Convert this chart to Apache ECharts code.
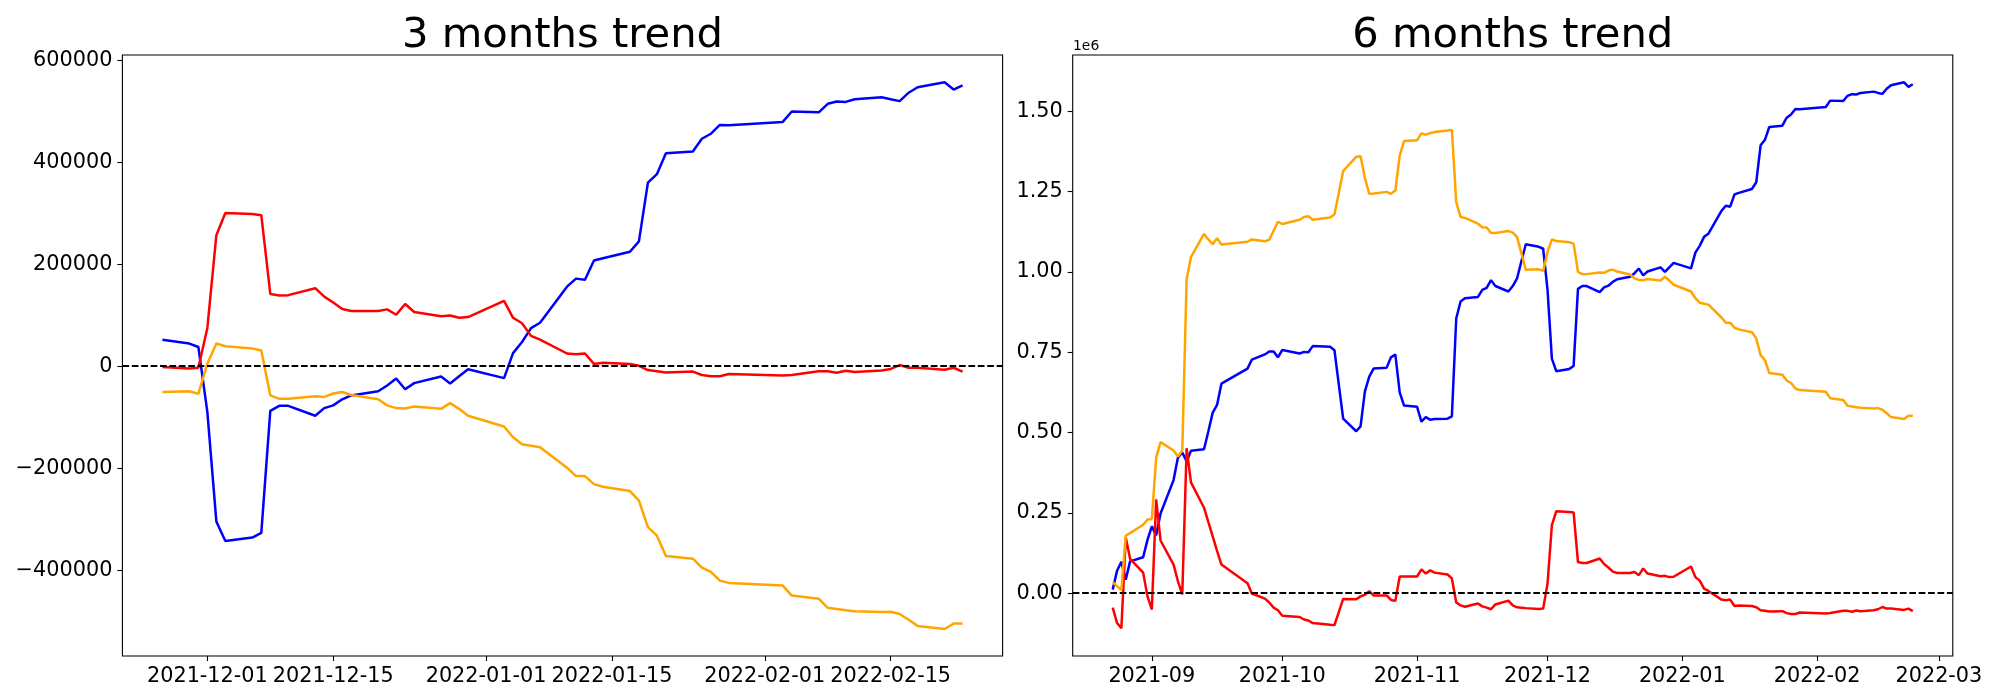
<!DOCTYPE html>
<html>
<head>
<meta charset="utf-8">
<script src="https://cdn.jsdelivr.net/npm/echarts@6/dist/echarts.min.js"></script>
<style>
html,body{margin:0;padding:0;background:#fff;}
#c{width:2000px;height:700px;}
</style>
</head>
<body>
<div id="c"></div>
<script>
// ---------- DATA: 3 months ----------
const dates3m = [
 '2021-11-26','2021-11-29','2021-11-30',
 '2021-12-01','2021-12-02','2021-12-03','2021-12-06','2021-12-07','2021-12-08','2021-12-09','2021-12-10',
 '2021-12-13','2021-12-14','2021-12-15','2021-12-16','2021-12-17','2021-12-20','2021-12-21','2021-12-22',
 '2021-12-23','2021-12-24','2021-12-27','2021-12-28','2021-12-29','2021-12-30',
 '2022-01-03','2022-01-04','2022-01-05','2022-01-06','2022-01-07','2022-01-10','2022-01-11','2022-01-12',
 '2022-01-13','2022-01-14','2022-01-17','2022-01-18','2022-01-19','2022-01-20','2022-01-21','2022-01-24',
 '2022-01-25','2022-01-26','2022-01-27','2022-01-28',
 '2022-02-03','2022-02-04','2022-02-07','2022-02-08','2022-02-09','2022-02-10','2022-02-11','2022-02-14',
 '2022-02-15','2022-02-16','2022-02-17','2022-02-18','2022-02-21','2022-02-22','2022-02-23'
];
const blue3m = [
 52000, 44400, 37700,
 -90000, -304200, -342600, -335800, -326800, -87400, -77600, -77600, -97100, -82100, -76800, -64800, -57200,
 -49000, -37700, -24100, -45200, -33100, -20300, -33900, -19600, -6000,
 -23300, 25600, 47400, 74600, 85100, 155900, 171700, 169400, 207100, 211600, 224400, 244700, 359900, 376500,
 417200, 420900, 445800, 455600, 472900, 472100,
 478900, 499200, 497700, 514300, 518800, 518100, 523300, 527100, 523300, 519600, 536100, 546700, 556500, 542200, 550400
];
const red3m = [
 -1500, -4500, -3000,
 75000, 256800, 300400, 298200, 296000, 141600, 138600, 139300, 152900, 136300, 125000, 112200, 108400,
 108400, 111400, 100900, 122000, 106200, 97900, 99400, 94900, 96400,
 128000, 94900, 84300, 59500, 52000, 24900, 23300, 24900, 4500, 6800, 4500, 800, -7500, -9800,
 -12100, -10500, -17300, -19600, -19600, -15100,
 -18100, -17300, -9800, -9800, -12800, -9000, -11300, -8300, -5300, 2300, -3000, -3000, -6800, -3000, -10500
];
const orange3m = [
 -50500, -49000, -54200,
 5000, 44400, 39200, 34600, 30900, -57200, -64000, -64000, -58700, -60200, -53500, -50500, -56500,
 -64800, -76800, -82100, -82800, -79100, -83600, -72300, -83600, -97100,
 -118200, -139300, -152900, -155900, -158900, -198800, -215400, -215400, -231200, -236400, -244700, -263600, -315500, -332100,
 -372000, -377300, -394600, -402900, -420200, -424700,
 -430000, -449500, -455600, -473600, -475900, -478200, -480400, -481900, -481200, -485700, -497000, -509000, -515100, -504500, -504500
];

// ---------- DATA: 6 months ----------
const dates6m = [
 '2021-08-23','2021-08-24','2021-08-25','2021-08-26','2021-08-27','2021-08-30','2021-08-31',
 '2021-09-01','2021-09-02','2021-09-03','2021-09-06','2021-09-07','2021-09-08','2021-09-09','2021-09-10',
 '2021-09-13','2021-09-14','2021-09-15','2021-09-16','2021-09-17','2021-09-23','2021-09-24','2021-09-27',
 '2021-09-28','2021-09-29','2021-09-30',
 '2021-10-01','2021-10-05','2021-10-06','2021-10-07','2021-10-08','2021-10-12','2021-10-13','2021-10-14',
 '2021-10-15','2021-10-18','2021-10-19','2021-10-20','2021-10-21','2021-10-22','2021-10-25','2021-10-26',
 '2021-10-27','2021-10-28','2021-10-29',
 '2021-11-01','2021-11-02','2021-11-03','2021-11-04','2021-11-05','2021-11-08','2021-11-09','2021-11-10',
 '2021-11-11','2021-11-12','2021-11-15','2021-11-16','2021-11-17','2021-11-18','2021-11-19','2021-11-22',
 '2021-11-23','2021-11-24','2021-11-25','2021-11-26','2021-11-29','2021-11-30',
 '2021-12-01','2021-12-02','2021-12-03','2021-12-06','2021-12-07','2021-12-08','2021-12-09','2021-12-10',
 '2021-12-13','2021-12-14','2021-12-15','2021-12-16','2021-12-17','2021-12-20','2021-12-21','2021-12-22',
 '2021-12-23','2021-12-24','2021-12-27','2021-12-28','2021-12-29','2021-12-30',
 '2022-01-03','2022-01-04','2022-01-05','2022-01-06','2022-01-07','2022-01-10','2022-01-11','2022-01-12',
 '2022-01-13','2022-01-14','2022-01-17','2022-01-18','2022-01-19','2022-01-20','2022-01-21','2022-01-24',
 '2022-01-25','2022-01-26','2022-01-27','2022-01-28',
 '2022-02-03','2022-02-04','2022-02-07','2022-02-08','2022-02-09','2022-02-10','2022-02-11','2022-02-14',
 '2022-02-15','2022-02-16','2022-02-17','2022-02-18','2022-02-21','2022-02-22','2022-02-23'
];
const blue6m = [
 11000, 70000, 98000, 42000, 99000, 112000, 166000,
 208000, 180000, 248000, 352000, 422000, 438000, 410000, 443000, 448000, 504000, 562000, 586000, 652000,
 699000, 727000, 743000, 752000, 752000, 734000,
 757000, 746000, 751000, 750000, 769000, 767000, 756000, 649000, 543000, 504000, 519000, 628000, 674000,
 699000, 702000, 734000, 743000, 625000, 584000,
 580000, 534000, 548000, 540000, 542000, 543000, 550000, 855000, 908000, 918000, 922000, 944000, 950000,
 974000, 956000, 939000, 956000, 980000, 1034000, 1086000, 1078000, 1072000,
 944000, 730000, 691000, 698000, 707000, 947000, 956000, 956000, 937000, 952000, 957000, 969000, 977000,
 985000, 996000, 1010000, 989000, 1001000, 1014000, 1000000, 1014000, 1028000,
 1011000, 1060000, 1081000, 1109000, 1119000, 1190000, 1206000, 1203000, 1241000, 1246000, 1258000, 1279000,
 1394000, 1411000, 1451000, 1455000, 1480000, 1490000, 1507000, 1506000,
 1513000, 1533000, 1532000, 1548000, 1553000, 1552000, 1557000, 1561000, 1557000, 1554000, 1570000, 1581000,
 1590000, 1576000, 1584000
];
const red6m = [
 -45000, -93000, -109000, 173000, 107000, 64000, -10000,
 -51000, 292000, 164000, 89000, 37000, -4000, 451000, 345000, 266000, 221000, 177000, 132000, 89000,
 31000, -1000, -17000, -29000, -45000, -53000,
 -70000, -74000, -82000, -85000, -93000, -98000, -99000, -59000, -18000, -19000, -10000, -5000, 6000,
 -7000, -7000, -21000, -24000, 52000, 52000,
 52000, 74000, 61000, 71000, 64000, 58000, 46000, -29000, -38000, -42000, -32000, -41000, -45000,
 -50000, -35000, -23000, -38000, -44000, -45000, -46500, -49500, -48000,
 30000, 212000, 255000, 253000, 251000, 97000, 94000, 94000, 108000, 91000, 80000, 67000, 63000,
 63000, 66000, 56000, 77000, 61000, 53000, 54000, 50000, 51000,
 83000, 50000, 39000, 14000, 7000, -20000, -22000, -20000, -40000, -38000, -40000, -44000,
 -53000, -55000, -57000, -56000, -62000, -65000, -65000, -60000,
 -63000, -62000, -55000, -55000, -58000, -54000, -56000, -53000, -50000, -43000, -48000, -48000,
 -52000, -48000, -56000
];
const orange6m = [
 34000, 22000, 10000, 179000, 187000, 213000, 229000,
 231000, 422000, 470000, 444000, 425000, 444000, 977000, 1046000, 1118000, 1101000, 1086000, 1105000, 1085000,
 1094000, 1101000, 1095000, 1100000, 1128000, 1156000,
 1149000, 1162000, 1171000, 1173000, 1162000, 1169000, 1179000, 1246000, 1314000, 1358000, 1360000, 1292000, 1243000,
 1244000, 1249000, 1243000, 1253000, 1362000, 1407000,
 1410000, 1431000, 1427000, 1432000, 1435000, 1440000, 1442000, 1217000, 1171000, 1168000, 1150000, 1139000, 1138000,
 1121000, 1121000, 1127000, 1122000, 1108000, 1057000, 1007000, 1008000, 1003000,
 1062000, 1101000, 1096000, 1092000, 1088000, 1000000, 993000, 993000, 998000, 997000, 1004000, 1007000, 1001000,
 992000, 980000, 975000, 974000, 978000, 973000, 985000, 973000, 960000,
 939000, 918000, 904000, 901000, 898000, 858000, 842000, 842000, 826000, 821000, 812000, 793000,
 741000, 725000, 685000, 680000, 662000, 654000, 637000, 632000,
 627000, 607000, 601000, 583000, 581000, 579000, 577000, 575000, 576000, 571000, 560000, 548000,
 542000, 552000, 552000
];

// ---------- TICKS ----------
const xTicks3m = ['2021-12-01','2021-12-15','2022-01-01','2022-01-15','2022-02-01','2022-02-15'];
const xTicks6m = ['2021-09-01','2021-10-01','2021-11-01','2021-12-01','2022-01-01','2022-02-01','2022-03-01'];
const yTicks3m = [-400000, -200000, 0, 200000, 400000, 600000];
const yTicks6m = [0, 250000, 500000, 750000, 1000000, 1250000, 1500000];

// ---------- CHART ----------
const DAY = 86400000;
function ts(s){ const p = s.split('-').map(Number); return new Date(p[0], p[1]-1, p[2]).getTime(); }
function pad2(n){ return (n < 10 ? '0' : '') + n; }
function fmtDay(v){ const d = new Date(v); return d.getFullYear() + '-' + pad2(d.getMonth()+1) + '-' + pad2(d.getDate()); }
function fmtMonth(v){ const d = new Date(v); return d.getFullYear() + '-' + pad2(d.getMonth()+1); }
const FONT = 'DejaVu Sans';
const TICK_FS = 20.8;

function pairs(dates, vals){ return dates.map((d,i)=>[ts(d), vals[i]]); }

function xAxisCfg(idx, dates, ticks, fmt, pad){
  const tv = ticks.map(ts);
  return {
    type:'value', gridIndex: idx, scale:true, position:'bottom',
    min: ts(dates[0]) - pad*DAY, max: ts(dates[dates.length-1]) + pad*DAY,
    axisLine:{show:false, onZero:false}, splitLine:{show:false},
    axisTick:{show:true, customValues: tv, length:5, lineStyle:{color:'#000', width:1.1}},
    axisLabel:{show:true, customValues: tv, hideOverlap:false, showMinLabel:true, showMaxLabel:true,
      color:'#000', fontSize:TICK_FS, fontFamily:FONT, margin:10, formatter: fmt}
  };
}
function yAxisCfg(idx, min, max, ticks, fmt){
  return {
    type:'value', gridIndex: idx, min:min, max:max, scale:true, position:'left',
    axisLine:{show:false, onZero:false}, splitLine:{show:false},
    axisTick:{show:true, customValues: ticks, length:5, lineStyle:{color:'#000', width:1.1}},
    axisLabel:{show:true, customValues: ticks, color:'#000', fontSize:TICK_FS, fontFamily:FONT, margin:10, formatter: fmt}
  };
}
function lineSeries(xi, data, color){
  return {type:'line', xAxisIndex:xi, yAxisIndex:xi, data:data, showSymbol:false, symbol:'none',
    lineStyle:{color:color, width:2.5}, itemStyle:{color:color}, z:2, silent:true};
}
function zeroSeries(xi){
  return {type:'line', xAxisIndex:xi, yAxisIndex:xi, data:[], z:5, silent:true,
    markLine:{silent:true, symbol:['none','none'], label:{show:false}, animation:false,
      lineStyle:{color:'#000', width:2.2, type:[6.7,2.7], opacity:1}, data:[{yAxis:0}]}};
}

const chart = echarts.init(document.getElementById('c'), null, {renderer:'canvas'});
chart.setOption({
  animation:false,
  backgroundColor:'#fff',
  grid:[
    {left:122.4, top:55, width:880.2, height:601, show:true, borderColor:'#000', borderWidth:1.1, backgroundColor:'transparent'},
    {left:1072.7, top:55, width:880.1, height:601, show:true, borderColor:'#000', borderWidth:1.1, backgroundColor:'transparent'}
  ],
  xAxis:[
    xAxisCfg(0, dates3m, xTicks3m, fmtDay, 4.45),
    xAxisCfg(1, dates6m, xTicks6m, fmtMonth, 9.2)
  ],
  yAxis:[
    yAxisCfg(0, -568000, 610000, yTicks3m, v => v < 0 ? '\u2212' + Math.abs(v) : String(v)),
    yAxisCfg(1, -195500, 1675000, yTicks6m, v => (v/1e6).toFixed(2))
  ],
  graphic:[
    {type:'text', x:562.5, y:36, style:{text:'3 months trend', fill:'#000', font:'41.7px "DejaVu Sans"', align:'center', verticalAlign:'middle'}},
    {type:'text', x:1512.75, y:36, style:{text:'6 months trend', fill:'#000', font:'41.7px "DejaVu Sans"', align:'center', verticalAlign:'middle'}},
    {type:'text', x:1073, y:46, style:{text:'1e6', fill:'#000', font:'13.9px "DejaVu Sans"', align:'left', verticalAlign:'middle'}}
  ],
  series:[
    lineSeries(0, pairs(dates3m, blue3m), '#0000ff'),
    lineSeries(0, pairs(dates3m, red3m), '#ff0000'),
    lineSeries(0, pairs(dates3m, orange3m), '#ffa500'),
    zeroSeries(0),
    lineSeries(1, pairs(dates6m, blue6m), '#0000ff'),
    lineSeries(1, pairs(dates6m, red6m), '#ff0000'),
    lineSeries(1, pairs(dates6m, orange6m), '#ffa500'),
    zeroSeries(1)
  ]
});
</script>
</body>
</html>
